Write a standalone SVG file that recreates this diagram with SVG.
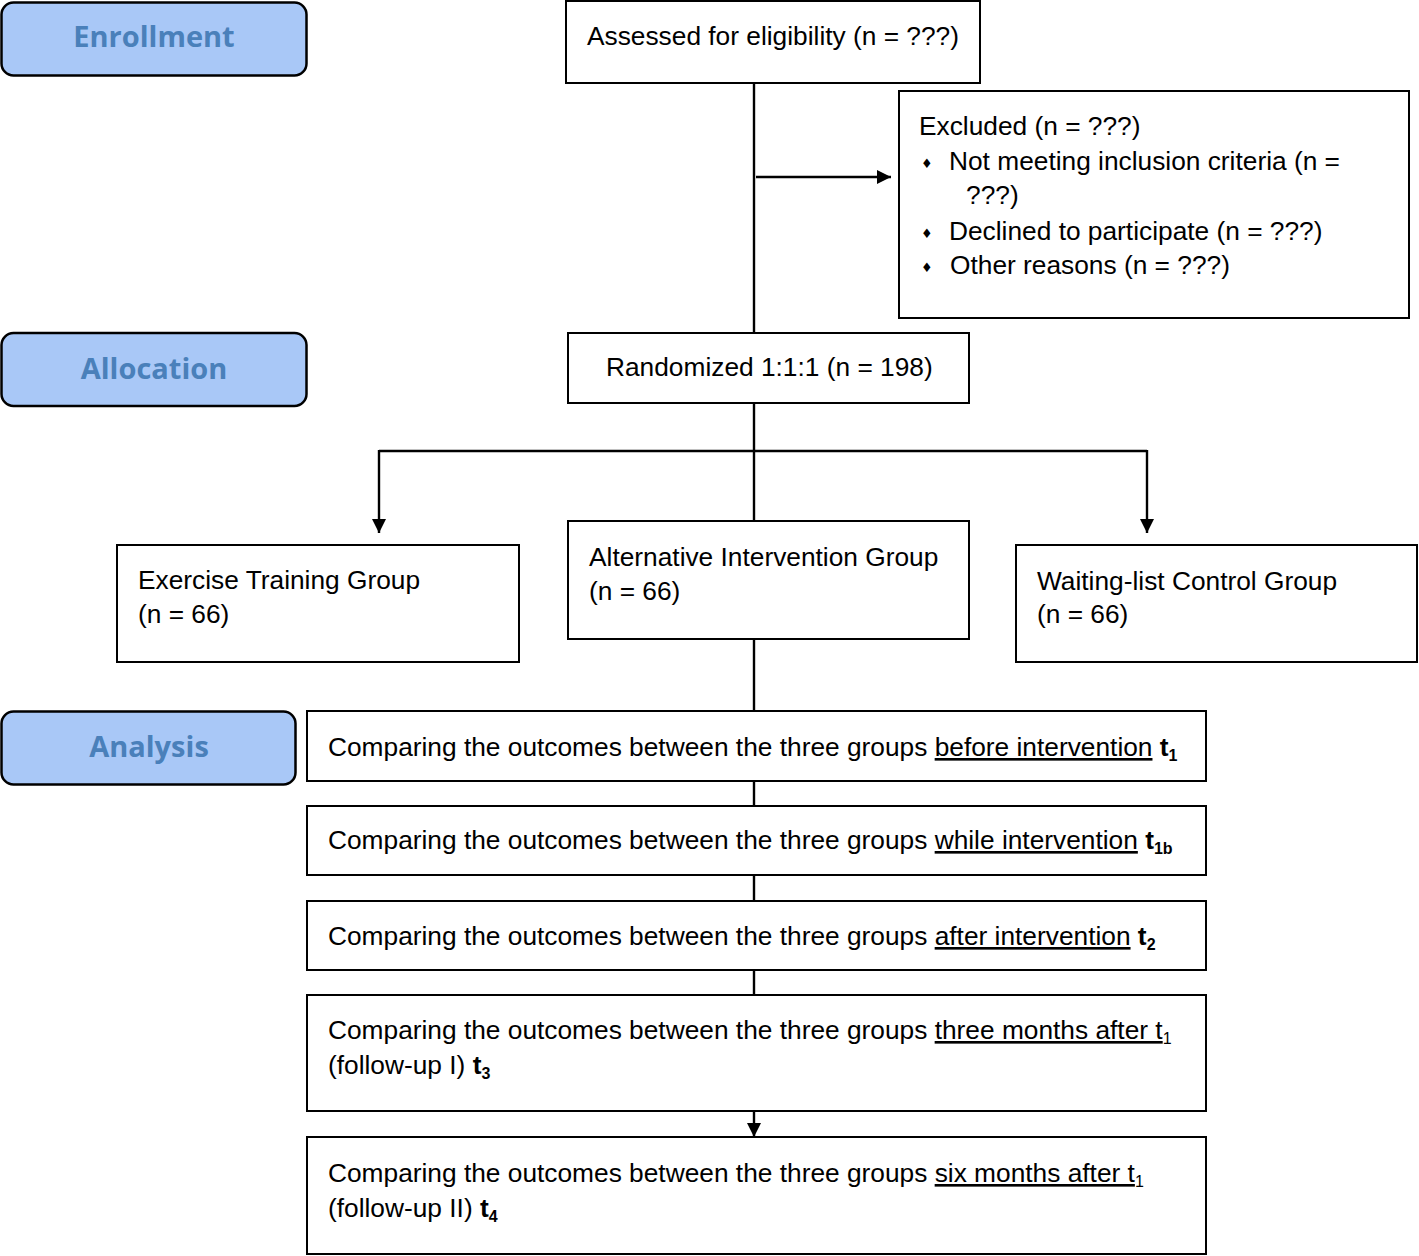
<svg xmlns="http://www.w3.org/2000/svg" width="1419" height="1256" viewBox="0 0 1419 1256">
<defs>
<marker id="ah" viewBox="0 0 14 14" refX="14" refY="7" markerWidth="14" markerHeight="14" markerUnits="userSpaceOnUse" orient="auto">
<path d="M0,0 L14,7 L0,14 Z" fill="#000"/>
</marker>
</defs>
<style>
.box{fill:#fff;stroke:#000;stroke-width:2}
.stage{fill:#a9c8f7;stroke:#000;stroke-width:2.5}
.stxt{font-family:"Open Sans","Liberation Sans",sans-serif;font-weight:bold;font-size:29px;fill:#4a80ba;text-anchor:middle}
.t{font-family:"Liberation Sans",Arial,sans-serif;font-size:26.3px;fill:#000}
.blt{font-family:"DejaVu Sans",sans-serif;font-size:13px;fill:#000}
.b{font-weight:bold}
.u{text-decoration:underline}
.sub{font-size:16px}
.ln{stroke:#000;stroke-width:2.4;fill:none}
</style>
<rect width="1419" height="1256" fill="#fff"/>

<g id="enrollment">
<rect class="stage" x="1.5" y="2.5" width="305" height="73" rx="12"/>
<text class="stxt" x="154" y="47">Enrollment</text>
</g>
<g id="allocation">
<rect class="stage" x="1.5" y="333" width="305" height="73" rx="12"/>
<text class="stxt" x="154" y="379">Allocation</text>
</g>
<g id="analysis">
<rect class="stage" x="1.5" y="711.5" width="294" height="73" rx="12"/>
<text class="stxt" x="149" y="757">Analysis</text>
</g>

<g id="connectors">
<line class="ln" x1="754" y1="83" x2="754" y2="333"/>
<line class="ln" x1="756" y1="177" x2="891" y2="177" marker-end="url(#ah)"/>
<line class="ln" x1="754" y1="403" x2="754" y2="521"/>
<path class="ln" d="M379,451 H1147"/>
<line class="ln" x1="379" y1="450" x2="379" y2="533" marker-end="url(#ah)"/>
<line class="ln" x1="1147" y1="450" x2="1147" y2="533" marker-end="url(#ah)"/>
<line class="ln" x1="754" y1="639" x2="754" y2="711"/>
<line class="ln" x1="754" y1="781" x2="754" y2="806"/>
<line class="ln" x1="754" y1="875" x2="754" y2="901"/>
<line class="ln" x1="754" y1="970" x2="754" y2="995"/>
<line class="ln" x1="754" y1="1111" x2="754" y2="1137" marker-end="url(#ah)"/>
</g>

<g id="assessed">
<rect class="box" x="566" y="1" width="414" height="82"/>
<text class="t" x="587" y="45">Assessed for eligibility (n = ???)</text>
</g>

<g id="excluded">
<rect class="box" x="899" y="91" width="510" height="227"/>
<text class="t" x="919" y="135">Excluded (n = ???)</text>
<text class="blt" x="921" y="168">♦</text>
<text class="t" x="949" y="170">Not meeting inclusion criteria (n =</text>
<text class="t" x="966" y="204">???)</text>
<text class="blt" x="921" y="238">♦</text>
<text class="t" x="949" y="240">Declined to participate (n = ???)</text>
<text class="blt" x="921" y="272">♦</text>
<text class="t" x="950" y="274">Other reasons (n = ???)</text>
</g>

<g id="randomized">
<rect class="box" x="568" y="333" width="401" height="70"/>
<text class="t" x="606" y="376">Randomized 1:1:1 (n = 198)</text>
</g>

<g id="exercise">
<rect class="box" x="117" y="545" width="402" height="117"/>
<text class="t" x="138" y="589">Exercise Training Group</text>
<text class="t" x="138" y="623">(n = 66)</text>
</g>
<g id="alternative">
<rect class="box" x="568" y="521" width="401" height="118"/>
<text class="t" x="589" y="566">Alternative Intervention Group</text>
<text class="t" x="589" y="600">(n = 66)</text>
</g>
<g id="waiting">
<rect class="box" x="1016" y="545" width="401" height="117"/>
<text class="t" x="1037" y="590">Waiting-list Control Group</text>
<text class="t" x="1037" y="623">(n = 66)</text>
</g>

<g id="t1">
<rect class="box" x="307" y="711" width="899" height="70"/>
<text class="t" x="328" y="756">Comparing the outcomes between the three groups <tspan class="u">before intervention</tspan> <tspan class="b">t</tspan><tspan class="b sub" dy="5">1</tspan></text>
</g>
<g id="t1b">
<rect class="box" x="307" y="806" width="899" height="69"/>
<text class="t" x="328" y="849">Comparing the outcomes between the three groups <tspan class="u">while intervention</tspan> <tspan class="b">t</tspan><tspan class="b sub" dy="5">1b</tspan></text>
</g>
<g id="t2">
<rect class="box" x="307" y="901" width="899" height="69"/>
<text class="t" x="328" y="945">Comparing the outcomes between the three groups <tspan class="u">after intervention</tspan> <tspan class="b">t</tspan><tspan class="b sub" dy="5">2</tspan></text>
</g>
<g id="t3">
<rect class="box" x="307" y="995" width="899" height="116"/>
<text class="t" x="328" y="1039">Comparing the outcomes between the three groups <tspan class="u">three months after t</tspan><tspan class="sub" dy="5">1</tspan></text>
<text class="t" x="328" y="1074">(follow-up I) <tspan class="b">t</tspan><tspan class="b sub" dy="5">3</tspan></text>
</g>
<g id="t4">
<rect class="box" x="307" y="1137" width="899" height="117"/>
<text class="t" x="328" y="1182">Comparing the outcomes between the three groups <tspan class="u">six months after t</tspan><tspan class="sub" dy="5">1</tspan></text>
<text class="t" x="328" y="1217">(follow-up II) <tspan class="b">t</tspan><tspan class="b sub" dy="5">4</tspan></text>
</g>
</svg>
